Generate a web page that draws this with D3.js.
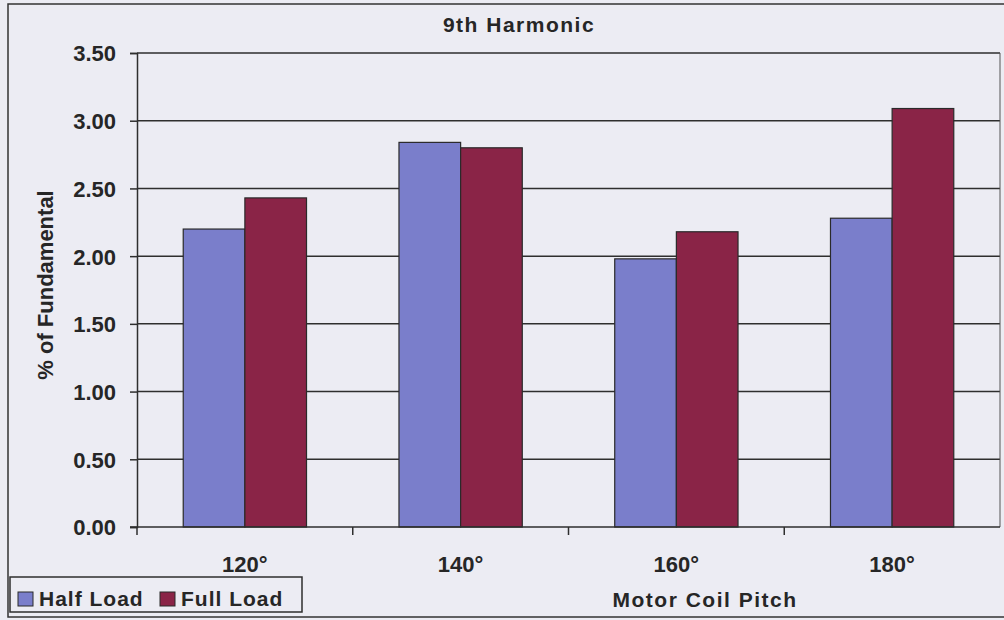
<!DOCTYPE html>
<html>
<head>
<meta charset="utf-8">
<script src="https://cdn.jsdelivr.net/npm/d3@7"></script>
<style>
  html, body { margin: 0; padding: 0; background: #ececf3; }
  svg text { font-family: "Liberation Sans", Arial, sans-serif; font-weight: bold; fill: #262626; }
</style>
</head>
<body>
<div id="chart"></div>
<script>
// chart data
var categories = ["120°", "140°", "160°", "180°"];
var seriesNames = ["Half Load", "Full Load"];
var halfLoad = [2.20, 2.84, 1.98, 2.28];
var fullLoad = [2.43, 2.80, 2.18, 3.09];
var yTicks = [0, 0.5, 1.0, 1.5, 2.0, 2.5, 3.0, 3.5];
var palette = ["#7a7ecb", "#8a2447"];

(function() {
    var width = 1004, height = 620;
    var mLeft = 137, mRight = 1000, mTop = 53, mBottom = 527;

    var rows = categories.map(function(c, i) {
        return { key: c, "Half Load": halfLoad[i], "Full Load": fullLoad[i] };
    });

    var svg = d3.select("#chart").append("svg")
        .attr("width", width).attr("height", height);

    // outer chart border
    svg.append("rect")
        .attr("x", 8).attr("y", 4).attr("width", 1010).attr("height", 613)
        .attr("fill", "#ececf3").attr("stroke", "#333").attr("stroke-width", 1.5);

    // scales
    var x = d3.scaleBand().domain(categories).range([mLeft, mRight]);
    var x1 = d3.scaleBand().domain(seriesNames)
        .range([x.bandwidth() * 0.75 / 3.5, x.bandwidth() * 2.75 / 3.5]);
    var y = d3.scaleLinear().domain([0, 3.5]).range([mBottom, mTop]);
    var z = d3.scaleOrdinal().domain(seriesNames).range(palette);

    // gridlines
    svg.append("g")
      .selectAll("line")
      .data(yTicks.slice(1))
      .enter().append("line")
      .attr("x1", mLeft).attr("x2", mRight)
      .attr("y1", function(d) { return y(d); })
      .attr("y2", function(d) { return y(d); })
      .attr("stroke", "#2e2e2e").attr("stroke-width", 1.5);

    // right edge of plot area
    svg.append("line")
        .attr("x1", mRight).attr("x2", mRight).attr("y1", mTop).attr("y2", mBottom)
        .attr("stroke", "#555").attr("stroke-width", 1);

    // bars
    svg.append("g")
      .selectAll("g")
      .data(rows)
      .enter().append("g")
      .attr("transform", function(d) { return "translate(" + x(d.key) + ",0)"; })
      .selectAll("rect")
      .data(function(d) { return seriesNames.map(function(k) { return { key: k, value: d[k] }; }); })
      .enter().append("rect")
      .attr("x", function(d) { return x1(d.key); })
      .attr("y", function(d) { return y(d.value); })
      .attr("width", x1.bandwidth())
      .attr("height", function(d) { return y(0) - y(d.value); })
      .attr("fill", function(d) { return z(d.key); })
      .attr("stroke", "#2a2a2a").attr("stroke-width", 1.2);

    // y axis
    var yAxis = svg.append("g")
        .attr("transform", "translate(" + mLeft + ",0)")
        .call(d3.axisLeft(y).tickValues(yTicks).tickFormat(d3.format(".2f")).tickSize(7).tickPadding(14));
    yAxis.select(".domain").attr("stroke", "#2e2e2e").attr("stroke-width", 1.5);
    yAxis.selectAll(".tick line").attr("stroke", "#2e2e2e").attr("stroke-width", 1.5);
    yAxis.selectAll("text").attr("font-size", 22).attr("dy", "0.36em")
        .attr("font-family", "Liberation Sans, Arial, sans-serif").attr("fill", "#262626");

    // x axis line with ticks between categories
    svg.append("line")
        .attr("x1", mLeft - 7).attr("x2", mRight).attr("y1", mBottom).attr("y2", mBottom)
        .attr("stroke", "#2e2e2e").attr("stroke-width", 1.5);
    svg.append("g")
      .selectAll("line")
      .data(categories)
      .enter().append("line")
      .attr("x1", function(d) { return x(d); })
      .attr("x2", function(d) { return x(d); })
      .attr("y1", mBottom).attr("y2", mBottom + 8)
      .attr("stroke", "#2e2e2e").attr("stroke-width", 1.5);

    // category labels
    svg.append("g")
      .selectAll("text")
      .data(categories)
      .enter().append("text")
      .text(function(d) { return d; })
      .attr("x", function(d) { return x(d) + x.bandwidth() / 2; })
      .attr("y", 572)
      .attr("text-anchor", "middle")
      .attr("font-size", 22);

    // title
    svg.append("text")
        .text("9th Harmonic")
        .attr("x", 519).attr("y", 32)
        .attr("text-anchor", "middle")
        .attr("font-size", 21).attr("letter-spacing", 1.5);

    // axis titles
    svg.append("text")
        .text("Motor Coil Pitch")
        .attr("x", 705).attr("y", 607)
        .attr("text-anchor", "middle")
        .attr("font-size", 21).attr("letter-spacing", 1.5);

    svg.append("text")
        .text("% of Fundamental")
        .attr("transform", "translate(53,285) rotate(-90)")
        .attr("text-anchor", "middle")
        .attr("font-size", 22);

    // legend
    var legend = svg.append("g");
    legend.append("rect")
        .attr("x", 10).attr("y", 577).attr("width", 292).attr("height", 35)
        .attr("fill", "#ececf3").attr("stroke", "#2e2e2e").attr("stroke-width", 1.5);
    var legendX = [18, 160];
    var item = legend.selectAll("g")
      .data(seriesNames)
      .enter().append("g")
      .attr("transform", function(d, i) { return "translate(" + legendX[i] + ",592)"; });
    item.append("rect")
        .attr("width", 15).attr("height", 14)
        .attr("fill", function(d) { return z(d); })
        .attr("stroke", "#2a2a2a").attr("stroke-width", 1);
    item.append("text")
        .text(function(d) { return d; })
        .attr("x", 21).attr("y", 14)
        .attr("font-size", 21).attr("letter-spacing", 1);
})();
</script>
</body>
</html>
